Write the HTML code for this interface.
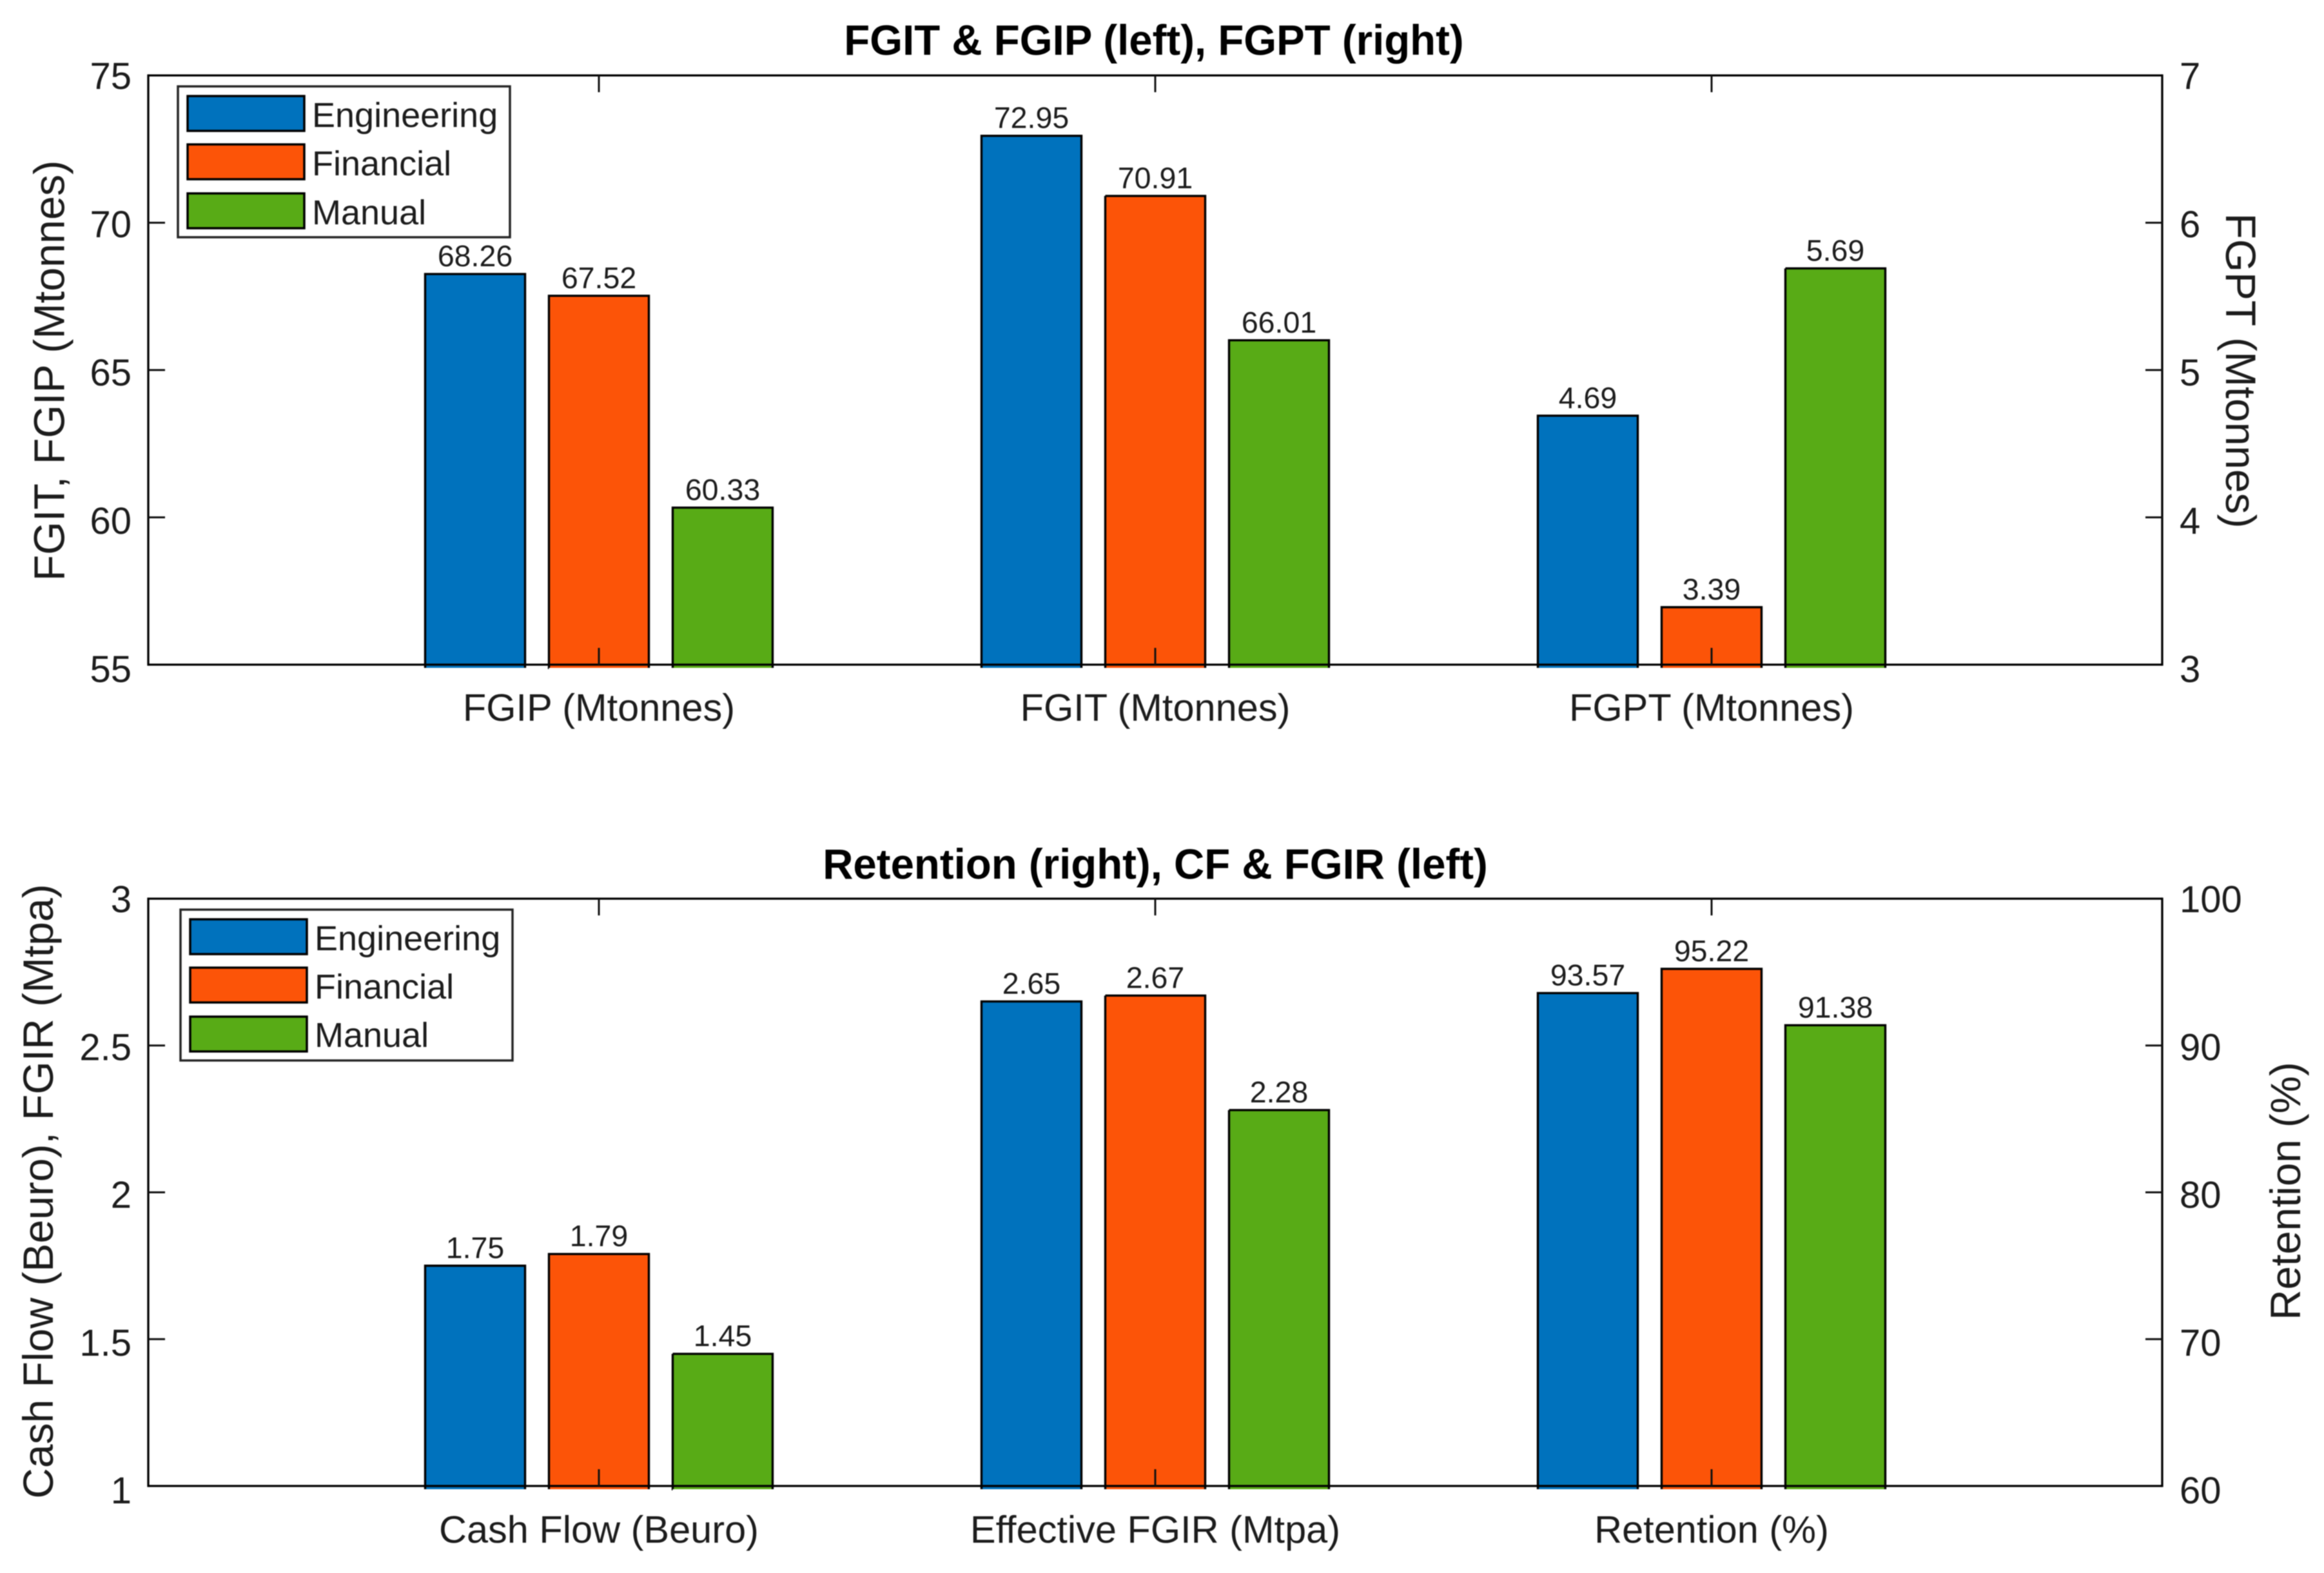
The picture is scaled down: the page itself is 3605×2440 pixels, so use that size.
<!DOCTYPE html>
<html lang="en">
<head>
<meta charset="utf-8">
<title>FGIT, FGIP, FGPT, Cash Flow, FGIR and Retention by scenario</title>
<style>
  html, body { margin: 0; padding: 0; background: #fff; }
  body { width: 3605px; height: 2440px; overflow: hidden; }
  svg { display: block; filter: blur(0.7px); }
  text { font-family: "Liberation Sans", sans-serif; fill: #1c1c1c; }
</style>
</head>
<body>
<svg id="figure" xmlns="http://www.w3.org/2000/svg" width="3605" height="2440" viewBox="0 0 3605 2440">
  <rect x="0" y="0" width="3605" height="2440" fill="#ffffff"/>

  <g id="panel-top"></g>
  <g id="panel-bottom"></g>

  <text x="1790" y="85" text-anchor="middle" font-size="65.4" font-weight="700" style="fill:#000">FGIT &amp; FGIP (left), FGPT (right)</text>
  <text x="1792" y="1363" text-anchor="middle" font-size="65.4" font-weight="700" style="fill:#000">Retention (right), CF &amp; FGIR (left)</text>

  <text transform="translate(99.5 575) rotate(-90)" text-anchor="middle" font-size="66.5">FGIT, FGIP (Mtonnes)</text>
  <text transform="translate(3453 575) rotate(90)" text-anchor="middle" font-size="65.8">FGPT (Mtonnes)</text>
  <text transform="translate(82 1848) rotate(-90)" text-anchor="middle" font-size="66">Cash Flow (Beuro), FGIR (Mtpa)</text>
  <text transform="translate(3568 1847.5) rotate(-90)" text-anchor="middle" font-size="65.5">Retention (%)</text>

  <g>
    <rect x="276" y="134" width="515" height="234" fill="#ffffff" stroke="#262626" stroke-width="3.5"/>
    <rect x="291" y="149" width="181" height="54" fill="#0072bd" stroke="#000" stroke-width="3.5"/>
    <text x="484" y="197" font-size="54">Engineering</text>
    <rect x="291" y="224" width="181" height="54" fill="#fc5408" stroke="#000" stroke-width="3.5"/>
    <text x="484" y="272" font-size="54">Financial</text>
    <rect x="291" y="300" width="181" height="54" fill="#58ab16" stroke="#000" stroke-width="3.5"/>
    <text x="484" y="348" font-size="54">Manual</text>
  </g>

  <g>
    <rect x="280" y="1411" width="515" height="234" fill="#ffffff" stroke="#262626" stroke-width="3.5"/>
    <rect x="295" y="1426" width="181" height="54" fill="#0072bd" stroke="#000" stroke-width="3.5"/>
    <text x="488" y="1474" font-size="54">Engineering</text>
    <rect x="295" y="1501" width="181" height="54" fill="#fc5408" stroke="#000" stroke-width="3.5"/>
    <text x="488" y="1549" font-size="54">Financial</text>
    <rect x="295" y="1577" width="181" height="54" fill="#58ab16" stroke="#000" stroke-width="3.5"/>
    <text x="488" y="1624" font-size="54">Manual</text>
  </g>
</svg>

<script>
// ---------- chart data ----------
const seriesNames = ['Engineering', 'Financial', 'Manual'];
const seriesKeys = ['engineering', 'financial', 'manual'];
const seriesColors = ['#0072bd', '#fc5408', '#58ab16'];

const topCategories = ['FGIP (Mtonnes)', 'FGIT (Mtonnes)', 'FGPT (Mtonnes)'];
const topAxisSide = ['left', 'left', 'right'];
const topEngineering = [68.26, 72.95, 4.69];
const topFinancial = [67.52, 70.91, 3.39];
const topManual = [60.33, 66.01, 5.69];
const topLeftDomain = [55, 75];
const topRightDomain = [3, 7];
const topLeftTicks = [55, 60, 65, 70, 75];
const topRightTicks = [3, 4, 5, 6, 7];

const bottomCategories = ['Cash Flow (Beuro)', 'Effective FGIR (Mtpa)', 'Retention (%)'];
const bottomAxisSide = ['left', 'left', 'right'];
const bottomEngineering = [1.75, 2.65, 93.57];
const bottomFinancial = [1.79, 2.67, 95.22];
const bottomManual = [1.45, 2.28, 91.38];
const bottomLeftDomain = [1, 3];
const bottomRightDomain = [60, 100];
const bottomLeftTicks = [1, 1.5, 2, 2.5, 3];
const bottomRightTicks = [60, 70, 80, 90, 100];

// ---------- drawing ----------
const SVG_NS = 'http://www.w3.org/2000/svg';

function make(parent, tag, attrs, content) {
  const el = document.createElementNS(SVG_NS, tag);
  for (const k in attrs) el.setAttribute(k, attrs[k]);
  if (content !== undefined) el.textContent = content;
  parent.appendChild(el);
  return el;
}

function linearScale(domain, rangeLow, rangeHigh) {
  return function (v) {
    return rangeLow + (v - domain[0]) / (domain[1] - domain[0]) * (rangeHigh - rangeLow);
  };
}

function drawPanel(host, prefix, plot, categories, sides, seriesValues, leftDomain, rightDomain, leftTicks, rightTicks) {
  const xCenter = function (i) { return plot.center + (i - 1) * plot.step; };
  const yLeft = linearScale(leftDomain, plot.bottom, plot.top);
  const yRight = linearScale(rightDomain, plot.bottom, plot.top);

  // bars: outlined on top and sides only, spilling a few pixels below the axis
  categories.forEach(function (cat, c) {
    const y = sides[c] === 'left' ? yLeft : yRight;
    seriesValues.forEach(function (values, s) {
      const cx = xCenter(c) + (s - 1) * plot.offset;
      const top = y(values[c]);
      const h = plot.bottom + 5 - top;
      const bar = make(host, 'rect', {
        x: cx - plot.barWidth / 2,
        y: top,
        width: plot.barWidth,
        height: h,
        fill: seriesColors[s],
        stroke: '#000',
        'stroke-width': 3.4,
        'stroke-dasharray': (plot.barWidth + h) + ' ' + plot.barWidth + ' ' + h
      });
      
      
      const lab = make(host, 'text', {
        x: cx,
        y: top - 12,
        'text-anchor': 'middle',
        'font-size': 46.5
      }, values[c].toFixed(2));
      
      
    });
  });

  // axes box
  const axisColor = '#000';
  const bottomAxis = make(host, 'line', { x1: plot.left, x2: plot.right, y1: plot.bottom, y2: plot.bottom, stroke: axisColor, 'stroke-width': 3.2 });
  
  
  const topAxis = make(host, 'line', { x1: plot.left, x2: plot.right, y1: plot.top, y2: plot.top, stroke: axisColor, 'stroke-width': 3.2 });
  
  
  const leftAxis = make(host, 'line', { x1: plot.left, x2: plot.left, y1: plot.top - 1.6, y2: plot.bottom + 1.6, stroke: axisColor, 'stroke-width': 3.3 });
  
  
  const rightAxis = make(host, 'line', { x1: plot.right, x2: plot.right, y1: plot.top - 1.6, y2: plot.bottom + 1.6, stroke: axisColor, 'stroke-width': 3.3 });
  
  

  // x ticks and category labels
  categories.forEach(function (cat, c) {
    const x = xCenter(c);
    const t1 = make(host, 'line', { x1: x, x2: x, y1: plot.bottom, y2: plot.bottom - 26, stroke: '#111', 'stroke-width': 3 });
    
    
    const t2 = make(host, 'line', { x1: x, x2: x, y1: plot.top, y2: plot.top + 26, stroke: '#111', 'stroke-width': 3 });
    
    
    const lab = make(host, 'text', { x: x, y: plot.categoryBaseline, 'text-anchor': 'middle', 'font-size': 59.5 }, cat);
    
    
  });

  // y ticks and labels: baseline drifts slightly from top to bottom, as in the reference
  function labelOffset(y) {
    return 21 + 6 * (y - plot.top) / (plot.bottom - plot.top);
  }
  leftTicks.forEach(function (v, i) {
    const y = yLeft(v);
    if (i > 0 && i < leftTicks.length - 1) {
      const t = make(host, 'line', { x1: plot.left, x2: plot.left + 26, y1: y, y2: y, stroke: '#111', 'stroke-width': 3 });
      
      
    }
    const lab = make(host, 'text', { x: 204, y: y + labelOffset(y), 'text-anchor': 'end', 'font-size': 58 }, String(v));
    
    
  });
  rightTicks.forEach(function (v, i) {
    const y = yRight(v);
    if (i > 0 && i < rightTicks.length - 1) {
      const t = make(host, 'line', { x1: plot.right, x2: plot.right - 26, y1: y, y2: y, stroke: '#111', 'stroke-width': 3 });
      
      
    }
    const lab = make(host, 'text', { x: 3381, y: y + labelOffset(y), 'text-anchor': 'start', 'font-size': 58 }, String(v));
    
    
  });
}

drawPanel(
  document.getElementById('panel-top'), 'top',
  { left: 230, right: 3354, top: 117, bottom: 1031, center: 1792, step: 863, offset: 192, barWidth: 155, categoryBaseline: 1118 },
  topCategories, topAxisSide, [topEngineering, topFinancial, topManual],
  topLeftDomain, topRightDomain, topLeftTicks, topRightTicks
);
drawPanel(
  document.getElementById('panel-bottom'), 'bottom',
  { left: 230, right: 3354, top: 1394, bottom: 2305, center: 1792, step: 863, offset: 192, barWidth: 155, categoryBaseline: 2393 },
  bottomCategories, bottomAxisSide, [bottomEngineering, bottomFinancial, bottomManual],
  bottomLeftDomain, bottomRightDomain, bottomLeftTicks, bottomRightTicks
);
</script>
</body>
</html>
